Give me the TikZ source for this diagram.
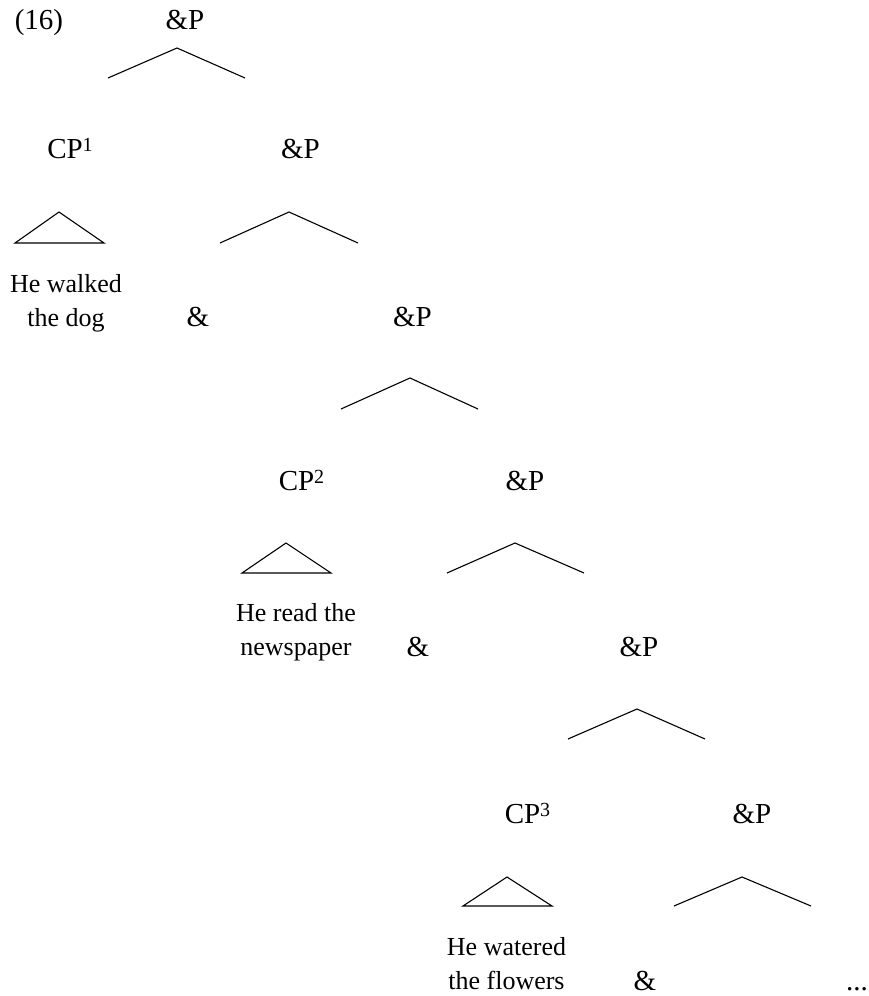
\documentclass[tikz,border=0pt]{standalone}
\usepackage{fontspec}
\setmainfont{Liberation Serif}
% index on a clause label
\newcommand\cpindex[1]{\raisebox{7pt}{\fontsize{20}{20}\selectfont #1}}
\begin{document}
\begin{tikzpicture}[x=1pt,y=-1pt,
  lab/.style={inner sep=0pt, anchor=base, font=\fontsize{29}{34}\selectfont},
  leaf/.style={inner sep=0pt, anchor=base, align=center, font=\fontsize{26}{34}\selectfont},
  branch/.style={line width=1.1pt, line join=miter},
]
\fill[white] (0,0) rectangle (868,996);
\useasboundingbox (0,0) rectangle (868,996);

% labels (anchored at their baselines; a clause node at its last line)
\node[lab] (ex)  at (39,29)    {(16)};
\node[lab] (p0)  at (185,29)   {\&P};
\node[lab] (cp1) at (70,158)   {CP\cpindex{1}};
\node[lab] (p1)  at (300.5,158) {\&P};
\node[leaf] (l1) at (66,326)   {He walked\\the dog};
\node[lab] (c1)  at (198,326)  {\&};
\node[lab] (p2)  at (412.5,326) {\&P};
\node[lab] (cp2) at (301.5,490) {CP\cpindex{2}};
\node[lab] (p3)  at (525,490)  {\&P};
\node[leaf] (l2) at (296,655)  {He read the\\newspaper};
\node[lab] (c2)  at (418,656)  {\&};
\node[lab] (p4)  at (639,656)  {\&P};
\node[lab] (cp3) at (527.5,823) {CP\cpindex{3}};
\node[lab] (p5)  at (752,823)  {\&P};
\node[leaf] (l3) at (506.5,989) {He watered\\the flowers};
\node[lab] (c3)  at (645,990)  {\&};
\node[lab, anchor=base west] (dots) at (846,990) {...};

% branch points
\coordinate (a0) at (177,48);  \coordinate (a0l) at (108,78);  \coordinate (a0r) at (245,78);
\coordinate (a1) at (289,212); \coordinate (a1l) at (220,243); \coordinate (a1r) at (358,243);
\coordinate (t1) at (59,212);  \coordinate (t1l) at (15,243);  \coordinate (t1r) at (104,243);
\coordinate (a2) at (410,378); \coordinate (a2l) at (341,409); \coordinate (a2r) at (478,409);
\coordinate (a3) at (515,543); \coordinate (a3l) at (447,573); \coordinate (a3r) at (584,573);
\coordinate (t2) at (286,543); \coordinate (t2l) at (242,573); \coordinate (t2r) at (331,573);
\coordinate (a4) at (637,709); \coordinate (a4l) at (568,739); \coordinate (a4r) at (705,739);
\coordinate (a5) at (742,877); \coordinate (a5l) at (674,906); \coordinate (a5r) at (811,906);
\coordinate (t3) at (507,877); \coordinate (t3l) at (463,906); \coordinate (t3r) at (552,906);

% branches
\foreach \b in {a0,a1,a2,a3,a4,a5}
  \draw[branch] (\b l) -- (\b) -- (\b r);
% triangles over the clauses
\foreach \t in {t1,t2,t3}
  \draw[branch] (\t) -- (\t l) -- (\t r) -- cycle;
\end{tikzpicture}
\end{document}
